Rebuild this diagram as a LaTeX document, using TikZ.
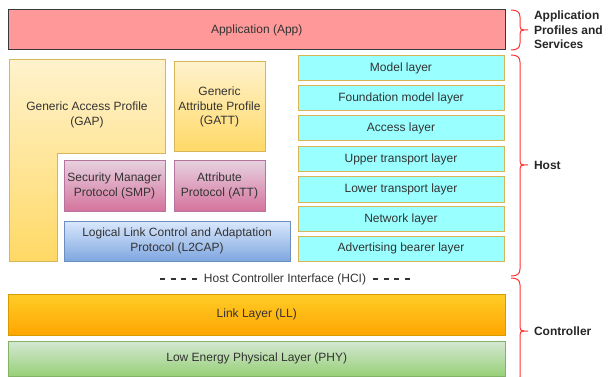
\documentclass[tikz,border=0pt]{standalone}
\usepackage{fontspec}
\setmainfont{Liberation Sans}
\definecolor{txt}{HTML}{333333}
\definecolor{appfill}{HTML}{FF9999}
\definecolor{appdraw}{HTML}{36393D}
\definecolor{ylt}{HTML}{FFF2CC}
\definecolor{ydk}{HTML}{FFD966}
\definecolor{ydraw}{HTML}{D6B656}
\definecolor{plt}{HTML}{E6D0DE}
\definecolor{pdk}{HTML}{D5739D}
\definecolor{pdraw}{HTML}{B5739D}
\definecolor{blt}{HTML}{DAE8FC}
\definecolor{bdk}{HTML}{7EA6E0}
\definecolor{bdraw}{HTML}{6C8EBF}
\definecolor{cyanfill}{HTML}{99FFFF}
\definecolor{olt}{HTML}{FFCD28}
\definecolor{odk}{HTML}{FFA500}
\definecolor{odraw}{HTML}{D79B00}
\definecolor{glt}{HTML}{D5E8D4}
\definecolor{gdk}{HTML}{97D077}
\definecolor{gdraw}{HTML}{82B366}
\definecolor{bracecol}{HTML}{FF3333}
\begin{document}
\begin{tikzpicture}[x=1pt,y=-1pt,
  every node/.style={font=\fontsize{12}{14.4}\selectfont, text=txt, inner sep=0pt, outer sep=0pt, align=center},
  layer/.style={draw, line width=1pt, minimum width=#1},
  layer/.default=206pt,
  app/.style={layer=497pt, fill=appfill, draw=appdraw, minimum height=40pt},
  ybox/.style={draw=ydraw, line width=1pt, top color=ylt, bottom color=ydk},
  pbox/.style={draw=pdraw, line width=1pt, top color=plt, bottom color=pdk},
  bbox/.style={draw=bdraw, line width=1pt, top color=blt, bottom color=bdk},
  meshbox/.style={draw=ydraw, line width=1pt, fill=cyanfill, minimum width=206pt, minimum height=25pt},
  obox/.style={draw=odraw, line width=1pt, top color=olt, bottom color=odk, minimum width=497pt},
  gbox/.style={draw=gdraw, line width=1pt, top color=glt, bottom color=gdk, minimum width=497pt},
  bracestyle/.style={draw=bracecol, line width=1pt},
  sidelabel/.style={anchor=west, align=left, font=\fontsize{12}{14.4}\selectfont\bfseries, text=black!85},
  hcidash/.style={draw=txt, line width=2pt, dash pattern=on 5pt off 5.7pt}
]
\useasboundingbox (0,0) rectangle (608,377);

% Application
\node[app] (app) at (256.75,30) {Application (App)};

% GAP L-shape
\shadedraw[ybox] (9,60) -- (165,60) -- (165,154) -- (57,154) -- (57,261) -- (9,261) -- cycle;
\node (gap) at (87,115) {Generic Access Profile\\(GAP)};

% GATT
\node[ybox, minimum width=91pt, minimum height=90pt] (gatt) at (219.5,107) {Generic\\Attribute Profile\\(GATT)};

% SMP, ATT
\node[pbox, minimum width=101pt, minimum height=50pt] (smp) at (114.5,186) {Security Manager\\Protocol (SMP)};
\node[pbox, minimum width=91pt, minimum height=50pt] (att) at (219.5,186) {Attribute\\Protocol (ATT)};

% L2CAP
\node[bbox, minimum width=226pt, minimum height=40pt] (l2cap) at (177,241) {Logical Link Control and Adaptation\\Protocol (L2CAP)};

% Mesh layers
\node[meshbox] (model) at (401,68.5) {Model layer};
\node[meshbox] (found) at (401,98.5) {Foundation model layer};
\node[meshbox] (access) at (401,128) {Access layer};
\node[meshbox] (upper) at (401,159.5) {Upper transport layer};
\node[meshbox] (lower) at (401,189.5) {Lower transport layer};
\node[meshbox] (network) at (401,219) {Network layer};
\node[meshbox] (adv) at (401,248.5) {Advertising bearer layer};

% HCI
\node (hci) at (285,279) {Host Controller Interface (HCI)};
\coordinate (hcil) at (160,279);
\coordinate (hcir) at (415,279);
\draw[hcidash] (hcil) -- ([xshift=-3pt]hci.west);
\draw[hcidash] ([xshift=7pt]hci.east) -- (hcir);

% Link layer and PHY
\node[obox, minimum height=41pt] (ll) at (256.75,314.5) {Link Layer (LL)};
\node[gbox, minimum height=35pt] (phy) at (256.75,358.5) {Low Energy Physical Layer (PHY)};

% Braces
\draw[bracestyle] (511,10) .. controls (517,10) and (520,12) .. (520,17) -- (520,26)
  .. controls (520,29) and (521,30) .. (524,30) -- (528,30);
\draw[bracestyle] (524,30) .. controls (521,30) and (520,31) .. (520,34) -- (520,43)
  .. controls (520,48) and (517,50) .. (511,50);

\draw[bracestyle] (511,55) .. controls (517,55) and (520,57) .. (520,62) -- (520,161)
  .. controls (520,164) and (521,165) .. (524,165) -- (528,165);
\draw[bracestyle] (524,165) .. controls (521,165) and (520,166) .. (520,169) -- (520,269)
  .. controls (520,274) and (517,276) .. (511,276);

\draw[bracestyle] (511,278) .. controls (517,278) and (520,280) .. (520,285) -- (520,327)
  .. controls (520,330) and (521,331) .. (524,331) -- (528,331);
\draw[bracestyle] (524,331) .. controls (521,331) and (520,332) .. (520,335) -- (520,377)
  .. controls (520,382) and (517,384) .. (511,384);

% Side labels
\node[sidelabel] (lblapp) at (534,30) {Application\\Profiles and\\Services};
\node[sidelabel] (lblhost) at (534,165) {Host};
\node[sidelabel] (lblctrl) at (534,331) {Controller};
\end{tikzpicture}
\end{document}
